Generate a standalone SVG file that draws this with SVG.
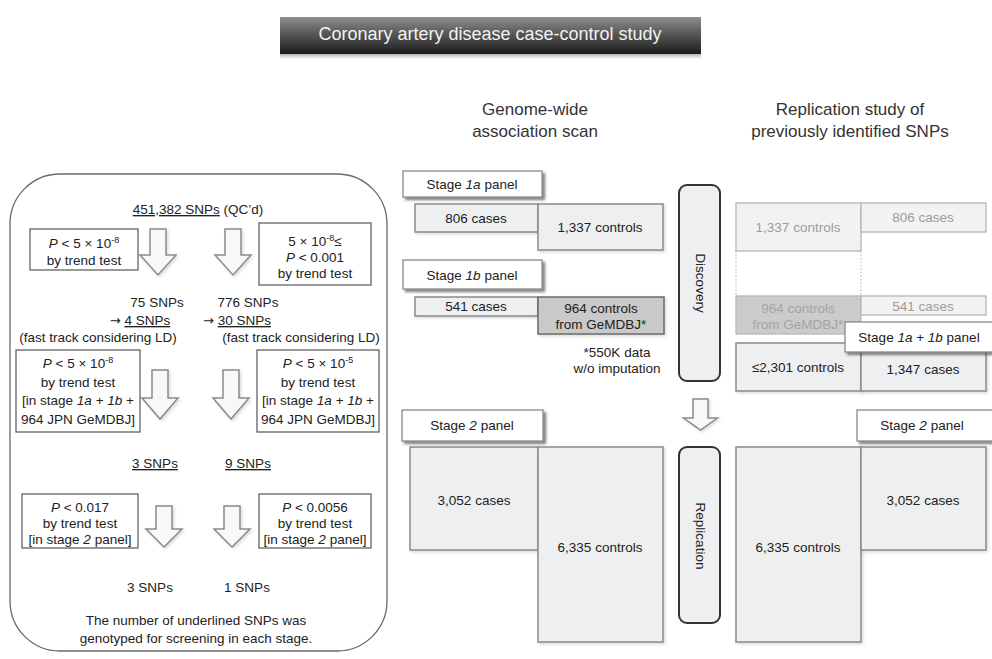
<svg xmlns="http://www.w3.org/2000/svg" width="992" height="659" viewBox="0 0 992 659">
<defs>
  <linearGradient id="titleGrad" x1="0" y1="0" x2="0" y2="1">
    <stop offset="0" stop-color="#8e8e8e"/>
    <stop offset="0.45" stop-color="#585858"/>
    <stop offset="1" stop-color="#1c1c1c"/>
  </linearGradient>
  <linearGradient id="titleShadow" x1="0" y1="0" x2="0" y2="1">
    <stop offset="0" stop-color="#a8a8a8"/>
    <stop offset="1" stop-color="#ffffff"/>
  </linearGradient>
  <filter id="panelShadow" x="-10%" y="-30%" width="130%" height="180%">
    <feDropShadow dx="2.5" dy="2.5" stdDeviation="1.2" flood-color="#333" flood-opacity="0.6"/>
  </filter>
  <filter id="softShadow" x="-10%" y="-10%" width="130%" height="130%">
    <feDropShadow dx="1.5" dy="1.5" stdDeviation="1.5" flood-color="#000" flood-opacity="0.15"/>
  </filter>
</defs>
<style>
  text { font-family: "Liberation Sans", Arial, sans-serif; font-size: 13.5px; fill: #222; }
  .c { text-anchor: middle; }
  .i { font-style: italic; }
  .u { text-decoration: underline; }
  .arr { font-family: "DejaVu Sans", sans-serif; font-size: 13px; }
  .sup { font-size: 9px; }
  .head { font-size: 17px; fill: #333; }
  .title { font-size: 18px; fill: #f2f2f2; }
  .lbox { fill: #fff; stroke: #555; stroke-width: 1.2; }
  .cell { fill: #eeeff0; stroke: #8a8a8a; stroke-width: 1.5; filter: url(#softShadow); }
  .cellDark { fill: #c9c9c9; stroke: #6a6a6a; stroke-width: 1.5; filter: url(#softShadow); }
  .fade { fill: #f2f2f3; stroke: #b4b4b4; stroke-width: 1.3; }
  .fadeDark { fill: #cbcbcb; stroke: #b8b8b8; stroke-width: 1.3; }
  .ft { fill: #9c9c9c; }
  .ftd { fill: #a4a4a4; }
  .panel { fill: #fff; stroke: #8a8a8a; stroke-width: 1.3; filter: url(#panelShadow); }
  .phase { fill: #eeeff0; stroke: #333; stroke-width: 2; }
  .barrow { fill: #f8f8f8; stroke: #8a8a8a; stroke-width: 1.5; filter: url(#softShadow); }
  .dot { stroke: #bdbdbd; stroke-width: 1.2; stroke-dasharray: 1.5 2; }
</style>

<g id="title">
  <rect x="280" y="53" width="421" height="6" fill="url(#titleShadow)"/>
  <rect x="280" y="17" width="421" height="37" fill="url(#titleGrad)"/>
  <text class="title c" x="490" y="40">Coronary artery disease case-control study</text>
</g>

<g id="heading-gwas">
  <text class="head c" x="535" y="115">Genome-wide</text>
  <text class="head c" x="535" y="137">association scan</text>
</g>
<g id="heading-replication">
  <text class="head c" x="850" y="115">Replication study of</text>
  <text class="head c" x="850" y="137">previously identified SNPs</text>
</g>

<!-- Left screening panel -->
<g id="screening-panel">
  <rect x="10" y="174" width="377" height="477" rx="50" fill="#fff" stroke="#6a6a6a" stroke-width="1.3"/>
</g>
<g id="snps-total">
  <text class="c" x="198" y="214"><tspan class="u">451,382 SNPs</tspan> (QC’d)</text>
</g>
<g id="filter-gw-strong">
  <rect class="lbox" x="30" y="229" width="108" height="41"/>
  <text class="c" x="84" y="248"><tspan class="i">P</tspan> &lt; 5 × 10<tspan class="sup" dy="-5">-8</tspan></text>
  <text class="c" x="84" y="265">by trend test</text>
</g>
<g id="filter-gw-moderate">
  <rect class="lbox" x="259" y="223" width="112" height="62"/>
  <text class="c" x="315" y="246">5 × 10<tspan class="sup" dy="-5">-8</tspan><tspan dy="5">≤</tspan></text>
  <text class="c" x="315" y="262"><tspan class="i">P</tspan> &lt; 0.001</text>
  <text class="c" x="315" y="278">by trend test</text>
</g>
<g id="count-75">
  <text class="c" x="157" y="307">75 SNPs</text>
  <text class="c" x="140" y="325"><tspan class="arr">→</tspan> <tspan class="u">4 SNPs</tspan></text>
  <text class="c" x="98" y="342">(fast track considering LD)</text>
</g>
<g id="count-776">
  <text class="c" x="248" y="307">776 SNPs</text>
  <text class="c" x="237" y="325"><tspan class="arr">→</tspan> <tspan class="u">30 SNPs</tspan></text>
  <text class="c" x="301" y="342">(fast track considering LD)</text>
</g>
<g id="filter-1ab-strong">
  <rect class="lbox" x="16" y="350" width="124" height="82"/>
  <text class="c" x="78" y="368"><tspan class="i">P</tspan> &lt; 5 × 10<tspan class="sup" dy="-5">-8</tspan></text>
  <text class="c" x="78" y="386.5">by trend test</text>
  <text class="c" x="78" y="405">[in stage <tspan class="i">1a</tspan> + <tspan class="i">1b</tspan> +</text>
  <text class="c" x="78" y="423.5">964 JPN GeMDBJ]</text>
</g>
<g id="filter-1ab-moderate">
  <rect class="lbox" x="257" y="350" width="122" height="82"/>
  <text class="c" x="318" y="368"><tspan class="i">P</tspan> &lt; 5 × 10<tspan class="sup" dy="-5">-5</tspan></text>
  <text class="c" x="318" y="386.5">by trend test</text>
  <text class="c" x="318" y="405">[in stage <tspan class="i">1a</tspan> + <tspan class="i">1b</tspan> +</text>
  <text class="c" x="318" y="423.5">964 JPN GeMDBJ]</text>
</g>
<g id="count-3a">
  <text class="c" x="155" y="468"><tspan class="u">3 SNPs</tspan></text>
</g>
<g id="count-9">
  <text class="c" x="248" y="468"><tspan class="u">9 SNPs</tspan></text>
</g>
<g id="filter-stage2-a">
  <rect class="lbox" x="22" y="494" width="116" height="54"/>
  <text class="c" x="80" y="512"><tspan class="i">P</tspan> &lt; 0.017</text>
  <text class="c" x="80" y="528">by trend test</text>
  <text class="c" x="80" y="544">[in stage <tspan class="i">2</tspan> panel]</text>
</g>
<g id="filter-stage2-b">
  <rect class="lbox" x="259" y="494" width="112" height="54"/>
  <text class="c" x="315" y="512"><tspan class="i">P</tspan> &lt; 0.0056</text>
  <text class="c" x="315" y="528">by trend test</text>
  <text class="c" x="315" y="544">[in stage <tspan class="i">2</tspan> panel]</text>
</g>
<g id="count-3b">
  <text class="c" x="150" y="592">3 SNPs</text>
</g>
<g id="count-1">
  <text class="c" x="247" y="592">1 SNPs</text>
</g>
<g id="footnote">
  <text class="c" x="196" y="625">The number of underlined SNPs was</text>
  <text class="c" x="196" y="643">genotyped for screening in each stage.</text>
</g>

<!-- GWAS column -->
<g id="stage1a-panel">
  <rect class="panel" x="403" y="171" width="139" height="26"/>
  <text class="c" x="472" y="189">Stage <tspan class="i">1a</tspan> panel</text>
</g>
<g id="gw-1a-cases">
  <rect class="cell" x="415" y="204" width="123" height="28"/>
  <text class="c" x="476" y="223">806 cases</text>
</g>
<g id="gw-1a-controls">
  <rect class="cell" x="538" y="204" width="125" height="46"/>
  <text class="c" x="600" y="232">1,337 controls</text>
</g>
<g id="stage1b-panel">
  <rect class="panel" x="403" y="260" width="139" height="29"/>
  <text class="c" x="472" y="280">Stage <tspan class="i">1b</tspan> panel</text>
</g>
<g id="gw-1b-cases">
  <rect class="cell" x="415" y="297" width="123" height="19"/>
  <text class="c" x="476" y="311">541 cases</text>
</g>
<g id="gw-1b-controls">
  <rect class="cellDark" x="538" y="297" width="126" height="37"/>
  <text class="c" x="601" y="313">964 controls</text>
  <text class="c" x="601" y="329">from GeMDBJ*</text>
</g>
<g id="note-550k">
  <text class="c" x="617" y="357">*550K data</text>
  <text class="c" x="617" y="373">w/o imputation</text>
</g>
<g id="stage2-panel-gw">
  <rect class="panel" x="402" y="410" width="141" height="31"/>
  <text class="c" x="472" y="430">Stage <tspan class="i">2</tspan> panel</text>
</g>
<g id="gw-2-cases">
  <rect class="cell" x="410" y="447" width="128" height="103"/>
  <text class="c" x="474" y="505">3,052 cases</text>
</g>
<g id="gw-2-controls">
  <rect class="cell" x="538" y="447" width="125" height="195"/>
  <text class="c" x="600" y="552">6,335 controls</text>
</g>

<!-- Phase labels -->
<g id="discovery">
  <rect class="phase" x="679" y="185" width="41" height="196" rx="8"/>
  <text class="c" transform="translate(700,283) rotate(90)" x="0" y="4.5">Discovery</text>
</g>
<g id="replication">
  <rect class="phase" x="679" y="447" width="41" height="176" rx="8"/>
  <text class="c" transform="translate(700,536) rotate(90)" x="0" y="4.5">Replication</text>
</g>

<!-- Replication study column -->
<g id="rep-1a-controls">
  <rect class="fade" x="736" y="203" width="125" height="48"/>
  <text class="c ft" x="798" y="232">1,337 controls</text>
</g>
<g id="rep-1a-cases">
  <rect class="fade" x="861" y="203" width="125" height="29"/>
  <text class="c ft" x="923" y="222">806 cases</text>
</g>
<g id="rep-1b-controls">
  <rect class="fadeDark" x="736" y="296" width="125" height="38"/>
  <text class="c ftd" x="798" y="313">964 controls</text>
  <text class="c ftd" x="798" y="329">from GeMDBJ*</text>
</g>
<g id="rep-1b-cases">
  <rect class="fade" x="861" y="296" width="125" height="19"/>
  <text class="c ft" x="923" y="311">541 cases</text>
</g>
<g id="rep-combined-controls">
  <rect class="cell" x="736" y="343" width="125" height="48"/>
  <text class="c" x="798" y="372">≤2,301 controls</text>
</g>
<g id="rep-combined-cases">
  <rect class="cell" x="861" y="343" width="125" height="48"/>
  <text class="c" x="923" y="374">1,347 cases</text>
</g>
<g id="stage1ab-panel">
  <rect class="panel" x="845" y="322" width="155" height="30"/>
  <text class="c" x="919" y="342">Stage <tspan class="i">1a</tspan> + <tspan class="i">1b</tspan> panel</text>
</g>
<g id="stage2-panel-rep">
  <rect class="panel" x="857" y="410" width="143" height="31"/>
  <text class="c" x="922" y="430">Stage <tspan class="i">2</tspan> panel</text>
</g>
<g id="rep-2-controls">
  <rect class="cell" x="736" y="447" width="125" height="195"/>
  <text class="c" x="798" y="552">6,335 controls</text>
</g>
<g id="rep-2-cases">
  <rect class="cell" x="861" y="447" width="125" height="103"/>
  <text class="c" x="923" y="505">3,052 cases</text>
</g>

<!-- Connectors -->
<g id="connectors">
  <line class="dot" x1="736" y1="251" x2="736" y2="296"/>
  <line class="dot" x1="861" y1="251" x2="861" y2="296"/>
  <path class="barrow" d="M150,229 H166 V255 H176 L158,275 L140,255 H150 Z"/>
  <path class="barrow" d="M225,229 H241 V255 H251 L233,275 L215,255 H225 Z"/>
  <path class="barrow" d="M152,370 H168 V398 H178 L160,419 L142,398 H152 Z"/>
  <path class="barrow" d="M223,370 H239 V398 H249 L231,419 L213,398 H223 Z"/>
  <path class="barrow" d="M156,506 H172 V529 H182 L164,547 L146,529 H156 Z"/>
  <path class="barrow" d="M224,506 H240 V529 H250 L232,547 L214,529 H224 Z"/>
  <path class="barrow" d="M693,399 H708 V418 H717.5 L700.5,430 L683.5,418 H693 Z"/>
</g>
</svg>
